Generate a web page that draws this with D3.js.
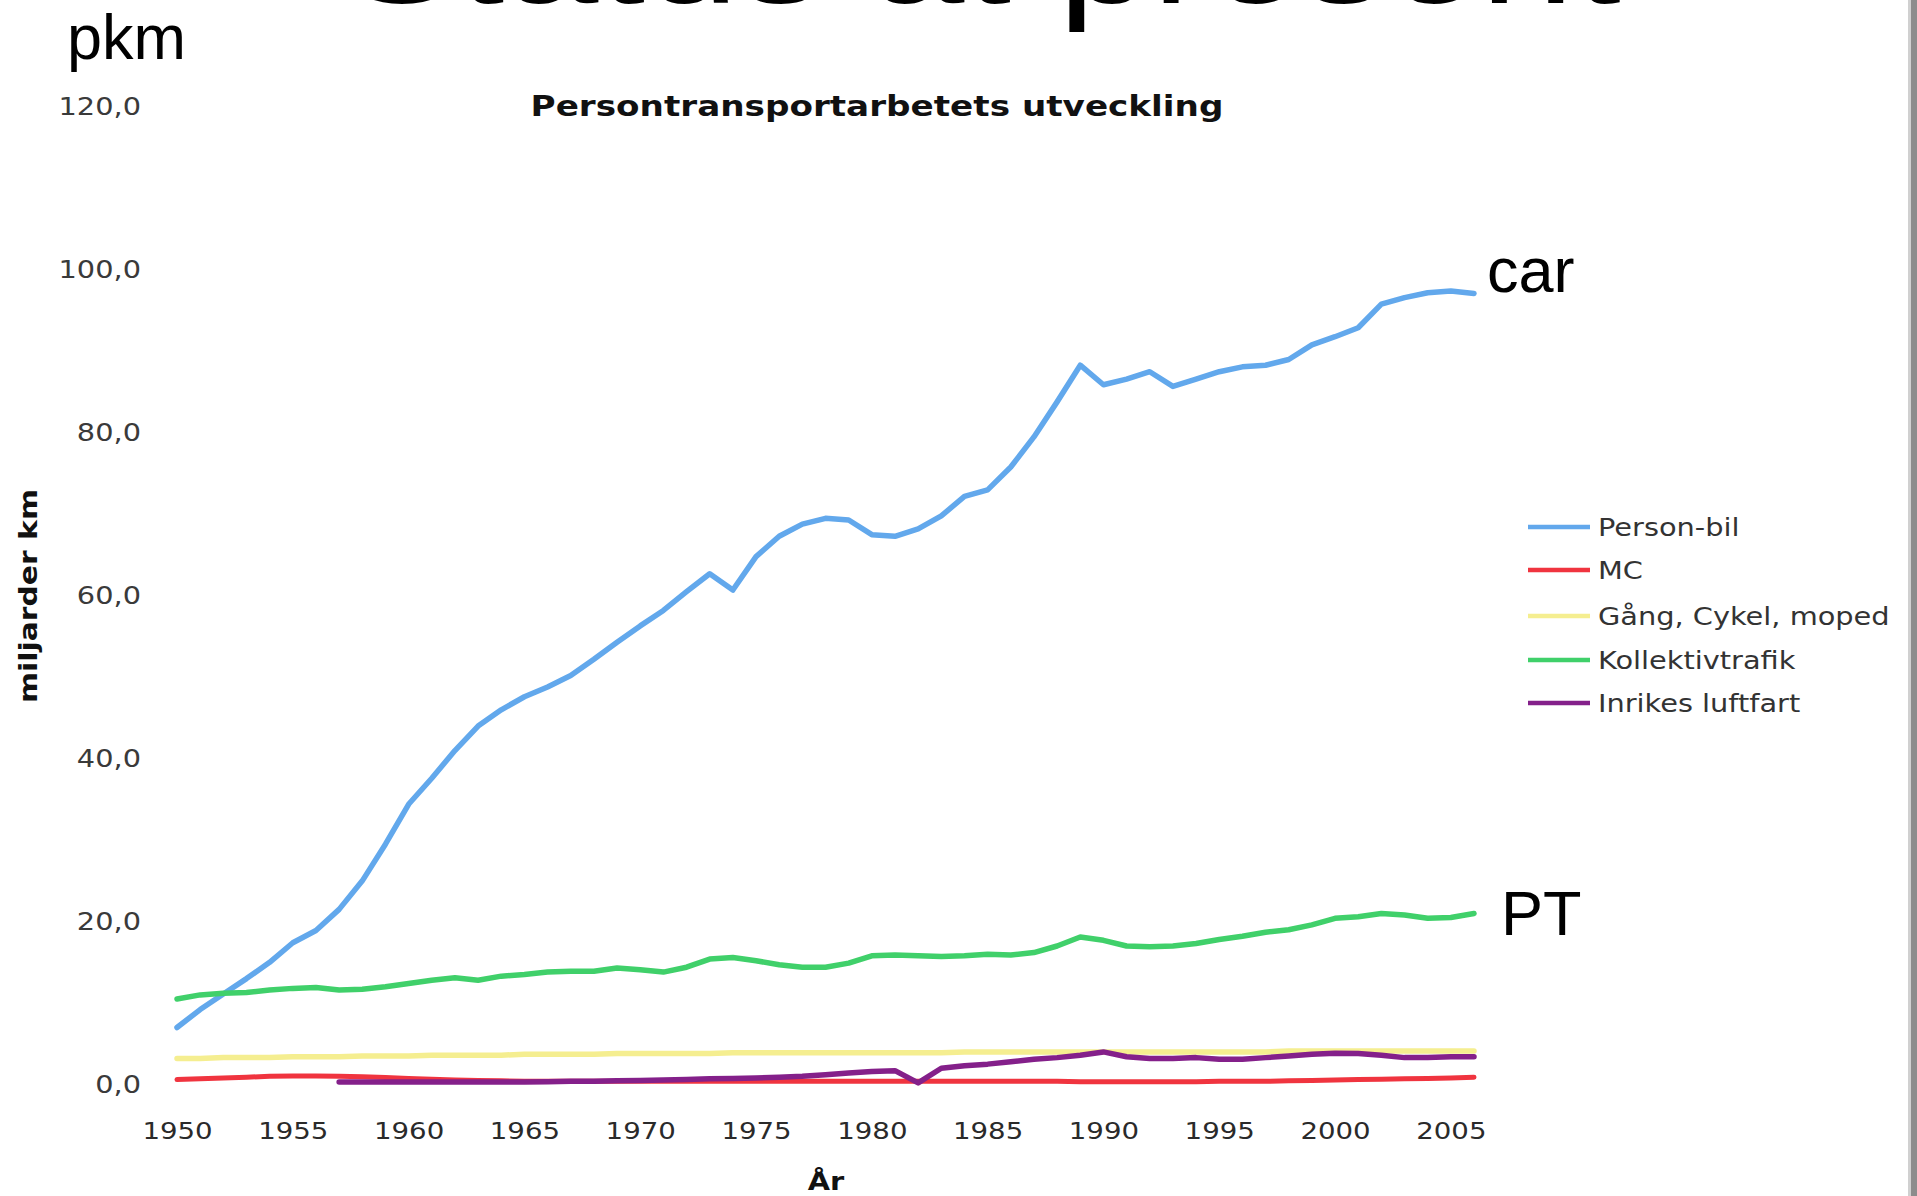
<!DOCTYPE html>
<html>
<head>
<meta charset="utf-8">
<script src="https://cdn.jsdelivr.net/npm/d3@7"></script>
<style>
  html, body { margin: 0; padding: 0; background: #ffffff; }
  svg { display: block; }
</style>
</head>
<body>
<svg id="chart" width="1917" height="1196"></svg>
<script>
// ---------- DATA ----------
const years = [1950,1951,1952,1953,1954,1955,1956,1957,1958,1959,
               1960,1961,1962,1963,1964,1965,1966,1967,1968,1969,
               1970,1971,1972,1973,1974,1975,1976,1977,1978,1979,
               1980,1981,1982,1983,1984,1985,1986,1987,1988,1989,
               1990,1991,1992,1993,1994,1995,1996,1997,1998,1999,
               2000,2001,2002,2003,2004,2005,2006];

const personbil = [7.0, 9.2, 11.1, 13.0, 15.0, 17.4, 18.9, 21.5, 25.0, 29.5,
                   34.4, 37.6, 41.0, 44.0, 46.0, 47.6, 48.8, 50.2, 52.2, 54.3,
                   56.3, 58.2, 60.5, 62.7, 60.7, 64.8, 67.3, 68.8, 69.5, 69.3,
                   67.5, 67.3, 68.2, 69.8, 72.2, 73.0, 75.8, 79.5, 83.8, 88.3,
                   85.9, 86.6, 87.5, 85.7, 86.6, 87.5, 88.1, 88.3, 89.0, 90.8,
                   91.8, 92.9, 95.8, 96.6, 97.2, 97.4, 97.1];

const mc = [0.6, 0.7, 0.8, 0.9, 1.0, 1.05, 1.05, 1.0, 0.95, 0.85,
            0.75, 0.65, 0.55, 0.5, 0.45, 0.4, 0.4, 0.4, 0.4, 0.4,
            0.4, 0.4, 0.4, 0.4, 0.4, 0.4, 0.4, 0.4, 0.4, 0.4,
            0.4, 0.4, 0.4, 0.4, 0.4, 0.4, 0.4, 0.4, 0.4, 0.35,
            0.35, 0.35, 0.35, 0.35, 0.35, 0.4, 0.4, 0.4, 0.45, 0.5,
            0.55, 0.6, 0.65, 0.7, 0.75, 0.8, 0.9];

const gangCykelMoped = [3.2, 3.2, 3.3, 3.3, 3.3, 3.4, 3.4, 3.4, 3.5, 3.5,
                        3.5, 3.6, 3.6, 3.6, 3.6, 3.7, 3.7, 3.7, 3.7, 3.8,
                        3.8, 3.8, 3.8, 3.8, 3.9, 3.9, 3.9, 3.9, 3.9, 3.9,
                        3.9, 3.9, 3.9, 3.9, 4.0, 4.0, 4.0, 4.0, 4.0, 4.0,
                        4.0, 4.0, 4.0, 4.0, 4.0, 4.0, 4.0, 4.0, 4.1, 4.1,
                        4.1, 4.1, 4.1, 4.1, 4.1, 4.1, 4.1];

const kollektivtrafik = [10.5, 11.0, 11.2, 11.3, 11.6, 11.8, 11.9, 11.6, 11.7, 12.0,
                         12.4, 12.8, 13.1, 12.8, 13.3, 13.5, 13.8, 13.9, 13.9, 14.3,
                         14.1, 13.8, 14.4, 15.4, 15.6, 15.2, 14.7, 14.4, 14.4, 14.9,
                         15.8, 15.9, 15.8, 15.7, 15.8, 16.0, 15.9, 16.2, 17.0, 18.1,
                         17.7, 17.0, 16.9, 17.0, 17.3, 17.8, 18.2, 18.7, 19.0, 19.6,
                         20.4, 20.6, 21.0, 20.8, 20.4, 20.5, 21.0];

const inrikesLuftfart = [null, null, null, null, null, null, null, 0.3, 0.3, 0.3,
                         0.3, 0.3, 0.3, 0.3, 0.3, 0.3, 0.35, 0.4, 0.4, 0.45,
                         0.5, 0.55, 0.6, 0.7, 0.75, 0.8, 0.9, 1.0, 1.2, 1.4,
                         1.6, 1.7, 0.2, 2.0, 2.3, 2.5, 2.8, 3.1, 3.3, 3.6,
                         4.0, 3.4, 3.2, 3.2, 3.3, 3.1, 3.1, 3.3, 3.5, 3.7,
                         3.85, 3.8, 3.6, 3.3, 3.3, 3.4, 3.4];

const seriesNames = ["Person-bil", "MC", "Gång, Cykel, moped", "Kollektivtrafik", "Inrikes luftfart"];
const seriesColors = ["#62a8ec", "#f0343f", "#f5ee90", "#40d06a", "#84208a"];
const yTicks = [0, 20, 40, 60, 80, 100, 120];
const xTicks = [1950, 1955, 1960, 1965, 1970, 1975, 1980, 1985, 1990, 1995, 2000, 2005];

const chartTitle = "Persontransportarbetets utveckling";
const yTitle = "miljarder km";
const xTitle = "År";
const slideTitle = "Status at present";

// ---------- DRAW ----------
const svg = d3.select("#chart");
const STRETCH = 1.2;

const x = d3.scaleLinear().domain([1950, 2006]).range([177, 1474]);
const y = d3.scaleLinear().domain([0, 120]).range([1084.5, 107]);

// right border line of slide
svg.append("rect").attr("x", 1911).attr("y", 0).attr("width", 6).attr("height", 1196).attr("fill", "#8c8c8c");
svg.append("rect").attr("x", 1908).attr("y", 0).attr("width", 3).attr("height", 1196).attr("fill", "#d0d0d0");

// cut-off slide title at top
svg.append("text")
  .attr("x", 345).attr("y", 3)
  .attr("font-family", "'Liberation Sans', Arial, sans-serif")
  .attr("font-size", 140)
  .attr("fill", "#000")
  .attr("textLength", 1276).attr("lengthAdjust", "spacingAndGlyphs")
  .text(slideTitle);

// chart title
svg.append("text")
  .attr("class", "stretch")
  .attr("x", 877).attr("y", 116)
  .attr("text-anchor", "middle")
  .attr("font-family", "'DejaVu Sans', Verdana, sans-serif")
  .attr("font-weight", "bold")
  .attr("font-size", 28.5)
  .attr("fill", "#111")
  .text(chartTitle);

// axes
const yAxis = d3.axisLeft(y).tickValues(yTicks).tickSize(0).tickPadding(36)
  .tickFormat(d => d3.format(".1f")(d).replace(".", ","));
const gy = svg.append("g").attr("transform", `translate(${x.range()[0]},0)`).call(yAxis);
gy.select(".domain").remove();
gy.selectAll("text").attr("class", "stretch")
  .attr("font-family", "'DejaVu Sans', Verdana, sans-serif")
  .attr("font-size", 24).attr("fill", "#3a3a3a");

const xAxis = d3.axisBottom(x).tickValues(xTicks).tickSize(0).tickPadding(38).tickFormat(d3.format("d"));
const gx = svg.append("g").attr("transform", `translate(0,${y(0)})`).call(xAxis);
gx.select(".domain").remove();
gx.selectAll("text").attr("class", "stretch")
  .attr("font-family", "'DejaVu Sans', Verdana, sans-serif")
  .attr("font-size", 23).attr("fill", "#2a2a2a");

// axis titles
svg.append("text")
  .attr("transform", "translate(37,596) rotate(-90)")
  .attr("text-anchor", "middle")
  .attr("font-family", "'DejaVu Sans', Verdana, sans-serif")
  .attr("font-weight", "bold")
  .attr("font-size", 24)
  .attr("fill", "#111")
  .attr("textLength", 214).attr("lengthAdjust", "spacingAndGlyphs")
  .text(yTitle);

svg.append("text")
  .attr("class", "stretch")
  .attr("x", 826).attr("y", 1190)
  .attr("text-anchor", "middle")
  .attr("font-family", "'DejaVu Sans', Verdana, sans-serif")
  .attr("font-weight", "bold")
  .attr("font-size", 24)
  .attr("fill", "#111")
  .text(xTitle);

// series lines
const allSeries = [personbil, mc, gangCykelMoped, kollektivtrafik, inrikesLuftfart];
const widths = [5.5, 5, 5.5, 5.5, 5.5];
const drawOrder = [2, 1, 0, 3, 4];
const line = d3.line()
  .defined(d => d.v !== null)
  .x(d => x(d.year))
  .y(d => y(d.v));

drawOrder.forEach(i => {
  const pts = years.map((yr, j) => ({ year: yr, v: allSeries[i][j] }));
  svg.append("path")
    .datum(pts)
    .attr("fill", "none")
    .attr("stroke", seriesColors[i])
    .attr("stroke-width", widths[i])
    .attr("stroke-linejoin", "round")
    .attr("stroke-linecap", "round")
    .attr("d", line);
});

// legend
const legendY = [527, 570, 616, 660, 703];
const lg = svg.append("g");
seriesNames.forEach((name, i) => {
  lg.append("line")
    .attr("x1", 1528).attr("x2", 1590)
    .attr("y1", legendY[i]).attr("y2", legendY[i])
    .attr("stroke", seriesColors[i]).attr("stroke-width", 4.5);
  lg.append("text")
    .attr("class", "stretch")
    .attr("x", 1598).attr("y", legendY[i]).attr("dy", "0.36em")
    .attr("font-family", "'DejaVu Sans', Verdana, sans-serif")
    .attr("font-size", 24)
    .attr("fill", "#333")
    .text(name);
});

// overlay annotations
const annot = [
  { t: "pkm", x: 67, y: 59 },
  { t: "car", x: 1487, y: 292 },
  { t: "PT",  x: 1501, y: 935 }
];
svg.selectAll("text.annot").data(annot).enter().append("text")
  .attr("class", "annot")
  .attr("x", d => d.x).attr("y", d => d.y)
  .attr("font-family", "'Liberation Sans', Arial, sans-serif")
  .attr("font-size", 63)
  .attr("fill", "#000")
  .text(d => d.t);

// horizontal stretch of the chart's texts (the chart image is wider than tall)
svg.selectAll("text.stretch").each(function() {
  const len = this.getComputedTextLength();
  d3.select(this).attr("textLength", len * STRETCH).attr("lengthAdjust", "spacingAndGlyphs");
});
</script>
</body>
</html>
